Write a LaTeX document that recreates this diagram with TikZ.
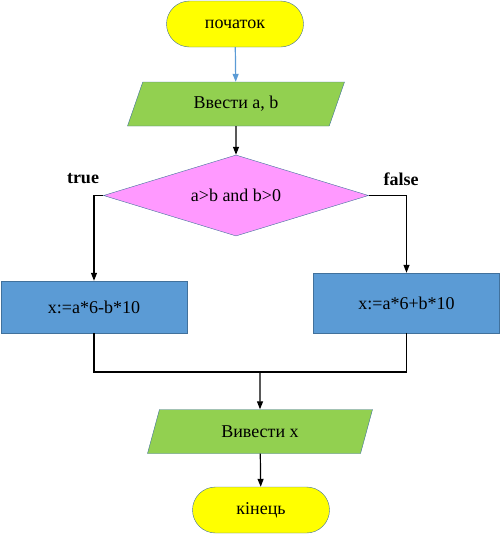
\documentclass[tikz,border=0pt]{standalone}
\usepackage{fontspec}
\setmainfont{Liberation Serif}
\usepackage{tikz}
\usetikzlibrary{arrows.meta}
\usetikzlibrary{shapes.geometric}
\usetikzlibrary{shapes.misc}

\definecolor{termfill}{HTML}{FFFF00}
\definecolor{iofill}{HTML}{92D050}
\definecolor{condfill}{HTML}{FF99FF}
\definecolor{procfill}{HTML}{5B9BD5}
\definecolor{edgeblue}{HTML}{41719C}
\definecolor{arrowblue}{HTML}{5B9BD5}

\begin{document}
\begin{tikzpicture}[x=1pt, y=-1pt, font=\fontsize{18}{21}\selectfont,
    term/.style={rounded rectangle, draw=edgeblue, fill=termfill, minimum width=137pt, minimum height=46pt, inner sep=0pt},
    iobox/.style={trapezium, trapezium left angle=45, trapezium right angle=135, trapezium stretches body, draw=edgeblue, fill=iofill, minimum height=44pt, inner sep=0pt},
    condbox/.style={diamond, aspect=3.27, draw=edgeblue, fill=condfill, minimum width=265pt, minimum height=81pt, inner sep=0pt},
    procbox/.style={rectangle, draw=edgeblue, fill=procfill, minimum width=186pt, inner sep=0pt},
    flow/.style={line width=1.2pt, -{Triangle[length=8pt, width=6pt]}}]
\useasboundingbox (0, 0) rectangle (501, 536);
\node[term] (start) at (235, 24) {початок};
\node[iobox, minimum width=217pt] (input) at (236, 104) {Ввести a, b};
\node[condbox] (cond) at (236, 195.5) {a>b and b>0};
\node[procbox, minimum height=52pt] (left) at (94, 307) {x:=a*6-b*10};
\node[procbox, minimum height=60pt] (right) at (406.5, 303) {x:=a*6+b*10};
\node[iobox, minimum width=225pt] (output) at (260, 431.5) {Вивести x};
\node[term] (stop) at (261, 510) {кінець};
\node[font=\fontsize{18}{21}\selectfont\bfseries] (yes) at (83, 179) {true};
\node[font=\fontsize{18}{21}\selectfont\bfseries] (no) at (401, 179) {false};
\coordinate (merge) at (260, 372);

\draw[flow, arrowblue] (start) -- (input);
\draw[flow] (input) -- (cond);
\draw[flow] (cond.west) -| (left.north);
\draw[flow] (cond.east) -| (right.north);
\draw[line width=1.2pt] (left.south) |- (merge);
\draw[line width=1.2pt] (right.south) |- (merge);
\draw[flow] (merge) -- (output);
\draw[flow] (output) -- (stop);
\end{tikzpicture}
\end{document}
